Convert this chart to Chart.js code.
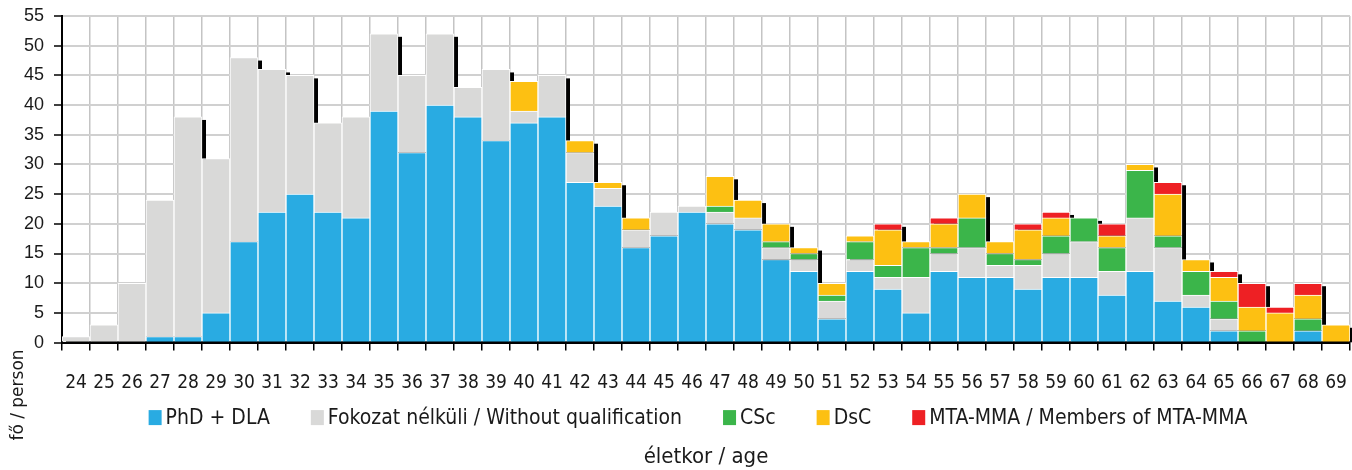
<!DOCTYPE html>
<html>
<head>
<meta charset="utf-8">
<script src="https://cdn.jsdelivr.net/npm/chart.js@4/dist/chart.umd.min.js"></script>
<style>
  html, body { margin: 0; padding: 0; background: #ffffff; }
  #wrap { width: 1352px; height: 470px; position: relative; }
</style>
</head>
<body>
<div id="wrap"><canvas id="c"></canvas></div>
<script>
// ---- Data ----
const ages = ['24','25','26','27','28','29','30','31','32','33','34','35','36','37','38','39','40','41','42','43','44','45','46','47','48','49','50','51','52','53','54','55','56','57','58','59','60','61','62','63','64','65','66','67','68','69'];
const phdDla = [0,0,0,1,1,5,17,22,25,22,21,39,32,40,38,34,37,38,27,23,16,18,22,20,19,14,12,4,12,9,5,12,11,11,9,11,11,8,12,7,6,2,0,0,2,0];
const noQualification = [1,3,10,23,37,26,31,24,20,15,17,13,13,12,5,12,2,7,5,3,3,4,1,2,2,2,2,3,2,2,6,3,5,2,4,4,6,4,9,9,2,2,0,0,0,0];
const csc = [0,0,0,0,0,0,0,0,0,0,0,0,0,0,0,0,0,0,0,0,0,0,0,1,0,1,1,1,3,2,5,1,5,2,1,3,4,4,8,2,4,3,2,0,2,0];
const dsc = [0,0,0,0,0,0,0,0,0,0,0,0,0,0,0,0,5,0,2,1,2,0,0,5,3,3,1,2,1,6,1,4,4,2,5,3,0,2,1,7,2,4,4,5,4,3];
const mtaMma = [0,0,0,0,0,0,0,0,0,0,0,0,0,0,0,0,0,0,0,0,0,0,0,0,0,0,0,0,0,1,0,1,0,0,1,1,0,2,0,2,0,1,4,1,2,0];
const yTicks = [0,5,10,15,20,25,30,35,40,45,50,55];
const seriesLabels = ['PhD + DLA','Fokozat nélküli / Without qualification','CSc','DsC','MTA-MMA / Members of MTA-MMA'];
const xTitle = 'életkor / age';
const yTitle = 'fő / person';

const colors = ['#29ABE2','#D9D9D8','#3BB54A','#FDC012','#EE2024'];
const seriesData = [phdDla, noQualification, csc, dsc, mtaMma];
const condFont = '"Liberation Sans Narrow", "DejaVu Sans Condensed", sans-serif';

// ---- Plugins ----
const shadowPlugin = {
  id: 'barShadow',
  beforeDatasetsDraw(chart) {
    const ctx = chart.ctx, ys = chart.scales.y, area = chart.chartArea;
    const meta = chart.getDatasetMeta(0);
    ctx.save();
    ctx.beginPath();
    ctx.rect(area.left, area.top - 5, chart.width - area.left, area.bottom - area.top + 5);
    ctx.clip();
    ctx.fillStyle = '#000000';
    ages.forEach((a, i) => {
      let total = 0;
      chart.data.datasets.forEach(d => { total += d.data[i]; });
      if (!total) return;
      const el = meta.data[i];
      const w = el.width;
      const left = el.x - w / 2;
      const top = ys.getPixelForValue(total);
      ctx.fillRect(left + 4, top + 3, w, area.bottom - top - 3);
    });
    ctx.restore();
  }
};

const yTitlePlugin = {
  id: 'yTitle',
  afterDraw(chart) {
    const ctx = chart.ctx;
    ctx.save();
    ctx.translate(19, 395);
    ctx.rotate(-Math.PI / 2);
    ctx.font = '17px "DejaVu Sans"';
    ctx.fillStyle = '#1a1a1a';
    ctx.textAlign = 'center';
    ctx.textBaseline = 'middle';
    ctx.fillText(yTitle, 0, 0);
    ctx.restore();
  }
};

const legendPlugin = {
  id: 'customLegend',
  afterDraw(chart) {
    const ctx = chart.ctx;
    const area = chart.chartArea;
    const boxW = 13, boxH = 15, gapText = 4, gapItem = 41;
    ctx.save();
    ctx.font = '21px ' + condFont;
    const items = chart.data.datasets.map(ds => ({
      text: ds.label, color: ds.backgroundColor, w: ctx.measureText(ds.label).width
    }));
    const total = items.reduce((s, it) => s + boxW + gapText + it.w, 0) + gapItem * (items.length - 1);
    const cy = area.bottom + 75;
    let x = (area.left + area.right) / 2 - 8 - total / 2;
    ctx.textBaseline = 'middle';
    ctx.textAlign = 'left';
    items.forEach(it => {
      ctx.fillStyle = it.color;
      ctx.fillRect(x, cy - boxH / 2, boxW, boxH);
      x += boxW + gapText;
      ctx.fillStyle = '#1a1a1a';
      ctx.fillText(it.text, x, cy + 1);
      x += it.w + gapItem;
    });
    ctx.restore();
  }
};

// ---- Chart ----
new Chart(document.getElementById('c'), {
  type: 'bar',
  data: {
    labels: ages,
    datasets: seriesData.map((d, k) => ({
      label: seriesLabels[k],
      data: d,
      backgroundColor: colors[k],
      borderColor: '#ffffff',
      borderWidth: 1,
      barPercentage: 1,
      categoryPercentage: 1
    }))
  },
  options: {
    responsive: true,
    maintainAspectRatio: false,
    animation: false,
    layout: { padding: { left: 0, right: 2, top: 16, bottom: 0 } },
    plugins: {
      tooltip: { enabled: false },
      legend: { display: false },
      title: {
        display: true,
        position: 'bottom',
        fullSize: false,
        text: xTitle,
        color: '#1a1a1a',
        font: { family: condFont, size: 22, weight: 'normal' },
        padding: { top: 50, bottom: 0 }
      }
    },
    scales: {
      x: {
        stacked: true,
        grid: { offset: true, color: '#c4c4c4', lineWidth: 1.5, tickLength: 8, tickColor: '#000000', tickWidth: 1.5 },
        border: { color: '#000000', width: 2 },
        ticks: {
          color: '#1a1a1a',
          padding: 21,
          maxRotation: 0,
          autoSkip: false,
          font: { family: condFont, size: 19 }
        },
        afterFit(scale) { scale.height = 51; scale.paddingLeft = 0; scale.paddingRight = 0; }
      },
      y: {
        stacked: true,
        min: 0,
        max: 55,
        afterBuildTicks(scale) { scale.ticks = yTicks.map(v => ({ value: v })); },
        grid: { color: '#d0d0d0', lineWidth: 2, tickLength: 8, tickColor: '#000000', tickWidth: 1.5 },
        border: { color: '#000000', width: 2 },
        ticks: {
          color: '#1a1a1a',
          padding: 10,
          font: { family: '"Liberation Sans", Arial, sans-serif', size: 18 }
        },
        afterFit(scale) { scale.width = 62; scale.paddingTop = 0; scale.paddingBottom = 0; }
      }
    }
  },
  plugins: [shadowPlugin, yTitlePlugin, legendPlugin]
});
</script>
</body>
</html>
